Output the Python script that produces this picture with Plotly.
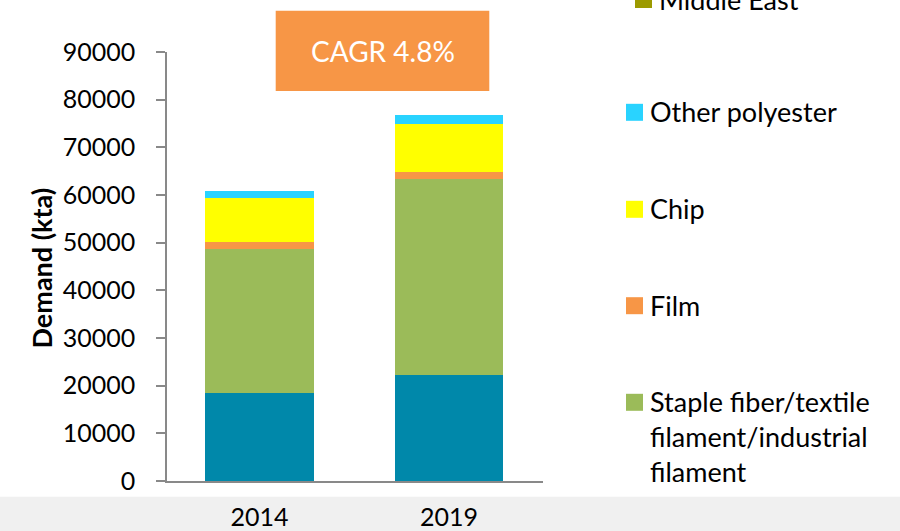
import plotly.graph_objects as go

# Polyester demand by end use (kta)
years = ["2014", "2019"]
bottle = [18400, 22300]
staple_filament = [30300, 41100]
film = [1400, 1500]
chip = [9200, 10100]
other_polyester = [1500, 1700]
cagr_label = "CAGR 4.8%"

series_names = ["Bottle", "Staple fiber/textile<br>filament/industrial<br>filament",
                "Film", "Chip", "Other polyester"]
series_values = [bottle, staple_filament, film, chip, other_polyester]
series_colors = ["#0088AA", "#9BBB59", "#F79646", "#FFFF00", "#29D3FF"]

# Legend entries shown at the right, top to bottom
legend_labels = ["Middle East", "Other polyester", "Chip", "Film",
                 "Staple fiber/textile<br>filament/industrial<br>filament"]
legend_colors = ["#9C9A00", "#29D3FF", "#FFFF00", "#F79646", "#9BBB59"]

FONT = "Lato"
W_FIG, H_FIG = 900, 531
L, R, T, B = 167, 357, 52, 50
PW = W_FIG - L - R
PH = H_FIG - T - B
BOTTOM = H_FIG - B


def px_x(px):
    return (px - L) / PW


def px_y(py):
    return (BOTTOM - py) / PH


fig = go.Figure()
for name, vals, col in zip(series_names, series_values, series_colors):
    fig.add_trace(go.Bar(x=years, y=vals, name=name, marker_color=col,
                         marker_line_width=0, showlegend=False))

shapes = []
annotations = []

# light grey strip along the bottom
shapes.append(dict(type="rect", xref="paper", yref="paper",
                   x0=-1, x1=3, y0=px_y(496.7), y1=px_y(540),
                   fillcolor="#F0F0F0", line_width=0, layer="below"))

# CAGR call-out box
shapes.append(dict(type="rect", xref="paper", yref="paper",
                   x0=px_x(275.7), x1=px_x(489.3), y0=px_y(91), y1=px_y(10.7),
                   fillcolor="#F79646", line_width=0, layer="above"))
annotations.append(dict(text=cagr_label, xref="paper", yref="paper",
                        x=px_x(382.5), y=px_y(51), xanchor="center", yanchor="middle",
                        showarrow=False, font=dict(family=FONT, size=28, color="white")))

# y axis title
annotations.append(dict(text="<b>Demand (kta)</b>", xref="paper", yref="paper",
                        x=px_x(40.5), y=px_y(268), xanchor="center", yanchor="middle",
                        textangle=-90, showarrow=False,
                        font=dict(family=FONT, size=27, color="black")))

# legend
LEG_FS = 27
centers = [-0.5, 112.3, 209.3, 305.7, 402.3]
marker_x = [635, 626, 626, 626, 626]
for lab, col, cy, mx in zip(legend_labels, legend_colors, centers, marker_x):
    shapes.append(dict(type="rect", xref="paper", yref="paper",
                       x0=px_x(mx), x1=px_x(mx + 17), y0=px_y(cy + 8.5), y1=px_y(cy - 8.5),
                       fillcolor=col, line_width=0))
    annotations.append(dict(text=lab, xref="paper", yref="paper",
                            x=px_x(mx + 22), y=px_y(cy - LEG_FS * 0.7), xanchor="left",
                            yanchor="top", align="left", showarrow=False,
                            font=dict(family=FONT, size=LEG_FS, color="black")))

fig.update_layout(
    width=W_FIG, height=H_FIG,
    margin=dict(l=L, r=R, t=T, b=B),
    barmode="stack", bargap=0.43,
    paper_bgcolor="white", plot_bgcolor="white",
    font=dict(family=FONT, size=25, color="black"),
    shapes=shapes, annotations=annotations,
    showlegend=False,
)
fig.update_xaxes(type="category", range=[-0.488, 1.496], showline=True,
                 linecolor="#898989", linewidth=1.5, showgrid=False, automargin=False,
                 ticks="outside", ticklen=13, tickcolor="rgba(0,0,0,0)",
                 tickfont=dict(family=FONT, size=25, color="black"))
fig.update_yaxes(range=[0, 90000], dtick=10000, tickformat="d", showline=True,
                 linecolor="#898989", linewidth=1.5, showgrid=False, zeroline=False,
                 automargin=False,
                 ticks="outside", ticklen=9, tickcolor="#898989", tickwidth=1.5,
                 ticklabelstandoff=16,
                 tickfont=dict(family=FONT, size=25, color="black"))

fig.write_html("out.html")
